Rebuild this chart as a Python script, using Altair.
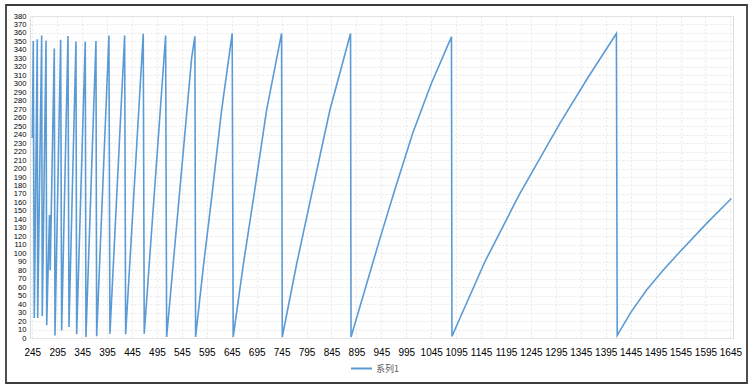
import altair as alt
import pandas as pd

# x positions (category index values) and angle values
xs = [245, 247.0, 249.0, 255.0, 255.8, 263.8, 265.0, 272.5, 273.9, 279.5, 280.9,
      289.1, 290.5, 301.9, 303.9, 316.6, 318.6, 332.6, 334.0, 351.2, 352.6,
      372.7, 374.1, 398.7, 400.7, 430.2, 432.2, 467.5, 469.5, 512.4, 514.4,
      564.5, 571.1, 572.5, 588.0, 605.2, 624.6, 645.9, 647.9, 668.0, 689.4, 714.8, 744.9,
      746.3, 775.0, 804.6, 841.7, 883.2, 884.2, 942.0, 972.0, 1008.0, 1045.0, 1085.6, 1086.6,
      1102.3, 1152.4, 1220.5, 1302.7, 1360.0, 1416.4, 1418.0, 1445.0, 1476.5, 1510.0,
      1543.3, 1596.8, 1646.9]
ys = [236, 350.6, 23.6, 352.6, 23.6, 357, 26, 351, 15, 145, 80,
      341.6, 3, 352, 9, 356.5, 13, 350, 4.4, 349.5, 1.2,
      350.6, 2, 357, 5, 357, 4.4, 359, 5, 357, 1.2,
      330, 356, 1.2, 84, 168, 268.7, 359.4, 1.2, 86, 168, 268.7, 359.4,
      1.2, 87, 168, 268.7, 359.4, 1.2, 117, 175, 242, 300, 355.4, 2,
      23, 89.7, 168, 253, 308, 359.4, 3.2, 30, 56.3, 80,
      101.5, 135, 164.6]
series_name = "系列1"
x_ticks = list(range(245, 1646, 50))
y_ticks = list(range(0, 381, 10))

df = pd.DataFrame({"x": xs, "y": ys, "series": [series_name] * len(xs), "order": list(range(len(xs)))})

line = alt.Chart(df).mark_line(strokeWidth=1.6).encode(
    x=alt.X("x:Q", scale=alt.Scale(domain=[240.4, 1650.2], nice=False, zero=False),
            axis=alt.Axis(values=x_ticks, format="d", title=None, labelPadding=9, ticks=False,
                          domain=False, labelOverlap=False, labelFlush=False,
                          grid=True, gridColor="#e8e8e8", gridDash=[2, 2])),
    y=alt.Y("y:Q", scale=alt.Scale(domain=[0, 380], nice=False),
            axis=alt.Axis(values=y_ticks, format="d", title=None, labelPadding=4, ticks=False,
                          domain=False, labelOverlap=False, labelFontSize=7.6,
                          grid=True, gridColor="#e8e8e8", gridDash=[2, 2])),
    order="order:Q",
    color=alt.Color("series:N", scale=alt.Scale(range=["#5b9bd5"]),
                    legend=alt.Legend(title=None, orient="none", legendX=320, legendY=341,
                                      symbolType="stroke", symbolSize=440, symbolStrokeWidth=2,
                                      labelFont="Noto Sans CJK SC", labelFontSize=9,
                                      labelColor="#595959", labelOffset=3)),
)

frame = alt.Chart(alt.Data(values=[{"a": 1}])).mark_rect(
    fill=None, stroke="#3c3c3c", strokeWidth=1.8
).encode(
    x=alt.value(-24), x2=alt.value(717), y=alt.value(-11), y2=alt.value(367)
)

chart = alt.layer(line, frame).properties(
    width=703, height=322,
    padding={"left": 30, "top": 16, "right": 19, "bottom": 50},
    autosize=alt.AutoSizeParams(type="none"),
).configure_view(stroke=None).configure_axis(
    labelFont="Liberation Sans", labelFontSize=8.2, labelColor="#666666"
).configure(background="white")

chart.save("out.html", embed_options={"renderer": "svg", "actions": False})
